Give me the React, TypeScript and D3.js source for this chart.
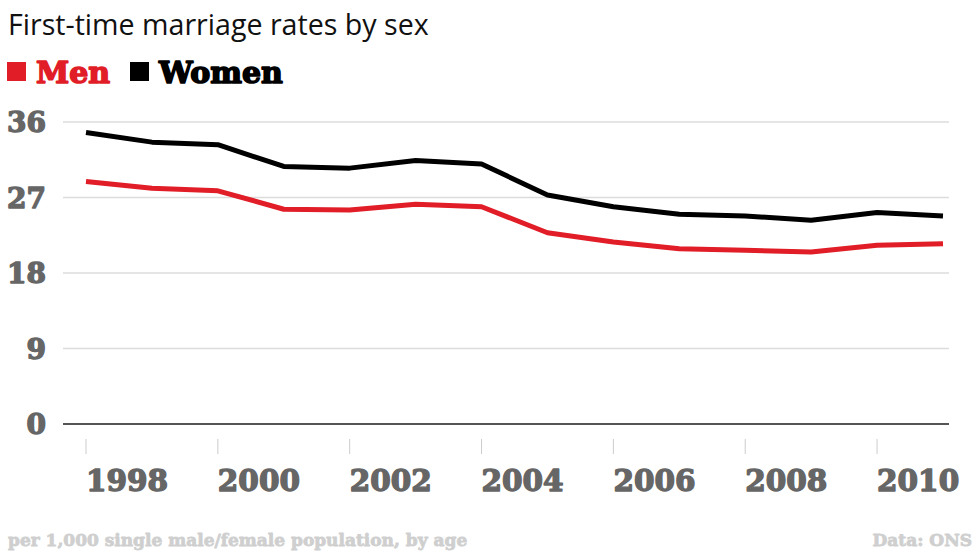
import React, { useRef, useEffect } from 'react';
import * as d3 from 'd3';

// First-time marriage rates per 1,000 single population
const years = [1998, 1999, 2000, 2001, 2002, 2003, 2004, 2005, 2006, 2007, 2008, 2009, 2010, 2011];
const men = [28.9, 28.1, 27.8, 25.6, 25.5, 26.2, 25.9, 22.8, 21.7, 20.9, 20.7, 20.5, 21.3, 21.5];
const women = [34.75, 33.6, 33.3, 30.7, 30.5, 31.4, 31.0, 27.3, 25.9, 25.0, 24.8, 24.3, 25.2, 24.8];
const yTicks = [0, 9, 18, 27, 36];
const xTicks = [1998, 2000, 2002, 2004, 2006, 2008, 2010];

const RED = '#e11d27';
const SLAB = '"DejaVu Serif", serif';

const App: React.FC = () => {
  const svgRef = useRef<SVGSVGElement>(null);

  useEffect(() => {
    if (!svgRef.current) return;
    const svg = d3.select(svgRef.current);
    svg.selectAll('*').remove();

    const W = 980, H = 551;
    svg.attr('width', W).attr('height', H);

    const x = d3.scaleLinear().domain([1998, 2011]).range([86, 943]);
    const y = d3.scaleLinear().domain([0, 36]).range([424, 122]);

    // heavy slab look: bold serif plus a stroke of the fill colour
    const slab = (sel: any, size: number, color: string, sw: number) =>
      sel.style('font-family', SLAB)
        .style('font-weight', 'bold')
        .style('font-size', `${size}px`)
        .style('fill', color)
        .style('stroke', color)
        .style('stroke-width', sw)
        .style('stroke-linejoin', 'round');

    // Title
    svg.append('text')
      .attr('x', 8).attr('y', 35)
      .style('font-family', '"Open Sans", sans-serif')
      .style('font-size', '28.6px')
      .style('fill', '#111')
      .text('First-time marriage rates by sex');

    // Legend
    const legend = [
      { label: 'Men', color: RED, x: 7 },
      { label: 'Women', color: '#000', x: 130 },
    ];
    legend.forEach(l => {
      svg.append('rect')
        .attr('x', l.x).attr('y', 62).attr('width', 19).attr('height', 19)
        .attr('fill', l.color);
      slab(svg.append('text')
        .attr('x', l.x + 29).attr('y', 83), 30, l.color, 1.6)
        .text(l.label);
    });

    // Gridlines
    svg.append('g')
      .selectAll('line')
      .data(yTicks.filter(d => d > 0))
      .enter()
      .append('line')
      .attr('x1', 63).attr('x2', 949)
      .attr('y1', d => y(d)).attr('y2', d => y(d))
      .attr('stroke', '#dcdcdc')
      .attr('stroke-width', 1.5);

    // Baseline
    svg.append('line')
      .attr('x1', 63).attr('x2', 949)
      .attr('y1', y(0)).attr('y2', y(0))
      .attr('stroke', '#555')
      .attr('stroke-width', 2);

    // Y labels
    slab(svg.append('g')
      .selectAll('text')
      .data(yTicks)
      .enter()
      .append('text')
      .attr('x', 46)
      .attr('y', d => y(d))
      .attr('dy', '0.36em')
      .attr('text-anchor', 'end'), 28, '#666', 1.4)
      .text(d => d);

    // X ticks + labels
    const xg = svg.append('g');
    xg.selectAll('line')
      .data(xTicks)
      .enter()
      .append('line')
      .attr('x1', d => x(d)).attr('x2', d => x(d))
      .attr('y1', 439).attr('y2', 454)
      .attr('stroke', '#ccc')
      .attr('stroke-width', 1);
    slab(xg.selectAll('text')
      .data(xTicks)
      .enter()
      .append('text')
      .attr('x', d => x(d))
      .attr('y', 491), 29.5, '#666', 1.4)
      .text(d => d);

    // Lines
    const line = d3.line<number>()
      .x((_, i) => x(years[i]))
      .y(d => y(d));

    [{ data: women, color: '#000' }, { data: men, color: RED }].forEach(s => {
      svg.append('path')
        .datum(s.data)
        .attr('d', line)
        .attr('fill', 'none')
        .attr('stroke', s.color)
        .attr('stroke-width', 5)
        .attr('stroke-linejoin', 'round');
    });

    // Footer
    slab(svg.append('text')
      .attr('x', 8).attr('y', 546), 17, '#cfcfcf', 0.8)
      .text('per 1,000 single male/female population, by age');

    slab(svg.append('text')
      .attr('x', 972).attr('y', 546)
      .attr('text-anchor', 'end'), 17, '#cfcfcf', 0.8)
      .text('Data: ONS');
  }, []);

  return <svg ref={svgRef} style={{ position: 'absolute', left: 0, top: 0 }}></svg>;
};

export default App;
